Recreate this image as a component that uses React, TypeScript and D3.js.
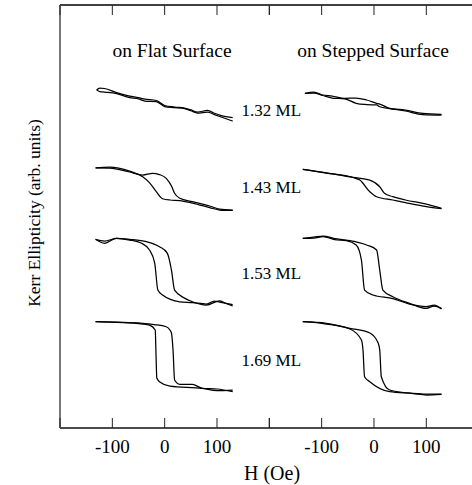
import React from "react";
import * as d3 from "d3";

// H (Oe) ticks and labels
const tickValues = [-200, -100, 0, 100, 200];
const tickLabels = ["-100", "0", "100"];
const labeledTicks = [-100, 0, 100];
const thicknesses = ["1.32 ML", "1.43 ML", "1.53 ML", "1.69 ML"];
const rowOffsets = [384, 284, 184, 84];
const labelLevels = [376, 285, 183, 80];
const panelTitles = ["on Flat Surface", "on Stepped Surface"];

// Flat surface loops: [H (Oe), Kerr ellipticity (arb.)]
const flat132Up: [number, number][] = [[-130, 15.5], [-124, 17.8], [-115, 17.3], [-92, 12.5], [-67, 8.4], [-50, 6.5], [-38, 4.8], [-16, 3.1], [0, -2.8], [19, -4.6], [38, -5.8], [50, -8], [63, -10.5], [82, -8.7], [95, -12], [108, -14.7], [130, -17.0]];
const flat132Down: [number, number][] = [[-130, 15.5], [-124, 13.7], [-115, 13.1], [-92, 11.3], [-67, 6.6], [-50, 5], [-38, 2.5], [-16, 1.9], [0, -4.0], [19, -5.2], [38, -6.4], [50, -9], [63, -11.7], [82, -10.5], [95, -13.5], [108, -16.4], [130, -21.2]];
const flat143Up: [number, number][] = [[-132, 23.6], [-105, 23.3], [-67, 18.6], [-42, 15.0], [-23, 17.0], [-10, 15.6], [3, 11.1], [13, 2.0], [19, -6.6], [29, -12.5], [53, -16.5], [86, -21.6], [105, -25.2], [130, -26.4]];
const flat143Down: [number, number][] = [[-132, 23.6], [-105, 24.5], [-67, 19.7], [-42, 13.0], [-30, 6.7], [-16, -4.7], [-4, -13.0], [10, -14.5], [29, -15.1], [53, -18.1], [86, -23.4], [105, -26.4], [130, -26.9]];
const flat153Up: [number, number][] = [[-132, 39.0], [-115, 34.3], [-92, 40.2], [-67, 39.0], [-35, 36.2], [-10, 30.3], [5, 22.8], [13, 2.7], [19, -21.0], [38, -30.5], [53, -34.8], [80, -38.7], [105, -33.6], [115, -36.3], [130, -39.8]];
const flat153Down: [number, number][] = [[-132, 39.0], [-115, 37.0], [-92, 40.0], [-67, 38.2], [-45, 34.6], [-29, 26.4], [-19, 11.0], [-13, -21.0], [-4, -26.8], [29, -34.8], [53, -35.7], [80, -37.5], [95, -33.9], [105, -35.1], [130, -38.1]];
const flat169Up: [number, number][] = [[-132, 41.6], [-42, 39.7], [-20, 38.3], [3, 35.7], [10, 31.8], [13, 28.3], [16, 8.2], [19, -27.3], [29, -32.4], [53, -32.4], [72, -37.1], [100, -37.9], [130, -41.1]];
const flat169Down: [number, number][] = [[-132, 41.6], [-42, 38.9], [-29, 37.7], [-18, 31.8], [-16.5, 2.2], [-15, -24.9], [-10, -29.3], [10, -34.4], [72, -37.1], [100, -39.7], [130, -39.1]];

// Stepped surface loops
const step132Up: [number, number][] = [[-132, 11.6], [-115, 13.1], [-98, 9.6], [-80, 8.4], [-56, 5.7], [-34, 6.0], [-14, 3.7], [5, -0.2], [11, -1.1], [30, -6.1], [60, -8.2], [93, -12.1], [129, -13.2]];
const step132Down: [number, number][] = [[-132, 11.6], [-115, 11.9], [-98, 9.0], [-80, 6.0], [-56, 5.1], [-34, -0.2], [-14, -1.7], [5, -2.2], [11, -4.3], [30, -6.4], [60, -9.3], [93, -13.5], [129, -14.1]];
const step143Up: [number, number][] = [[-136, 21.7], [-91, 17.7], [-40, 12.3], [-8, 9.1], [11, 1.2], [20, -6.6], [36, -10.6], [60, -14.5], [100, -19.3], [129, -24.3]];
const step143Down: [number, number][] = [[-136, 21.7], [-91, 17.4], [-40, 12.1], [-27, 9.1], [-8, -4.7], [5, -10.6], [36, -14.5], [60, -17.5], [100, -22.2], [129, -24.6]];
const step153Up: [number, number][] = [[-136, 40.2], [-115, 41.7], [-97, 42.9], [-75, 40.0], [-53, 38.2], [-14, 32.3], [5, 26.4], [11, 2.7], [17, -21.0], [36, -28.8], [68, -36.6], [100, -42.6], [115, -39.8], [129, -42.6]];
const step153Down: [number, number][] = [[-136, 40.2], [-115, 40.5], [-97, 42.3], [-75, 38.8], [-53, 37.6], [-34, 32.3], [-24, 14.5], [-18, -21.0], [-2, -26.8], [36, -31.0], [68, -37.5], [100, -40.4], [115, -38.7], [129, -43.4]];
const step169Up: [number, number][] = [[-136, 41.6], [-91, 39.7], [-46, 33.8], [-8, 28.3], [8, 16.4], [11, 8.2], [14, -23.4], [30, -39.1], [75, -43.0], [100, -43.9], [129, -43.9]];
const step169Down: [number, number][] = [[-136, 41.6], [-91, 38.9], [-46, 33.0], [-24, 20.0], [-21, 8.2], [-18, -23.4], [-8, -29.3], [30, -41.1], [75, -43.3], [100, -45.0], [129, -44.4]];

const flatLoops = [[flat132Up, flat132Down], [flat143Up, flat143Down], [flat153Up, flat153Down], [flat169Up, flat169Down]];
const stepLoops = [[step132Up, step132Down], [step143Up, step143Down], [step153Up, step153Down], [step169Up, step169Down]];

const W = 472, H = 485;
const left = 60, top = 5, bottom = 428;
const font = "'Liberation Serif', 'Times New Roman', serif";

export default function App() {
  const pxPer100 = 52.33;
  const xLeft = d3.scaleLinear().domain([-200, 200]).range([left, left + 4 * pxPer100]);
  const xRight = d3.scaleLinear().domain([-200, 200]).range([left + 4 * pxPer100, left + 8 * pxPer100]);
  const y = d3.scaleLinear().domain([0, 500]).range([bottom, top]);

  const makeLine = (xs: d3.ScaleLinear<number, number>, off: number) =>
    d3.line<[number, number]>().x(d => xs(d[0])).y(d => y(off + d[1])).curve(d3.curveMonotoneX);

  const panels = [
    { xs: xLeft, loops: flatLoops },
    { xs: xRight, loops: stepLoops },
  ];

  return (
    <svg width={W} height={H} style={{ position: "absolute", left: 0, top: 0, background: "#fff" }}>
      {/* frame */}
      <line x1={left} x2={W} y1={top} y2={top} stroke="#000" strokeWidth={1.4} />
      <line x1={left} x2={W} y1={bottom} y2={bottom} stroke="#111" strokeWidth={1.4} />
      <line x1={left} x2={left} y1={top} y2={bottom} stroke="#555" strokeWidth={1.6} />
      {panels.map((p, pi) => (
        <g key={pi}>
          {tickValues.map(t => (
            <g key={t}>
              <line x1={p.xs(t)} x2={p.xs(t)} y1={top} y2={top + 10} stroke="#222" strokeWidth={1} />
              <line x1={p.xs(t)} x2={p.xs(t)} y1={bottom} y2={bottom - 10} stroke="#222" strokeWidth={1} />
            </g>
          ))}
          {labeledTicks.map((t, i) => (
            <text key={t} x={p.xs(t)} y={453} textAnchor="middle" fontFamily={font} fontSize={19} fill="#000">
              {tickLabels[i]}
            </text>
          ))}
          {p.loops.map((loop, ri) => (
            <g key={ri}>
              {loop.map((branch, bi) => (
                <path key={bi} d={makeLine(p.xs, rowOffsets[ri])(branch) || ""} fill="none" stroke="#000" strokeWidth={1.25} />
              ))}
            </g>
          ))}
        </g>
      ))}
      <text x={172} y={57} textAnchor="middle" fontFamily={font} fontSize={19.5} fill="#000">{panelTitles[0]}</text>
      <text x={373} y={57} textAnchor="middle" fontFamily={font} fontSize={19.5} fill="#000">{panelTitles[1]}</text>
      {thicknesses.map((t, i) => (
        <text key={t} x={xLeft(200) + 2} y={y(labelLevels[i]) + 6} textAnchor="middle" fontFamily={font} fontSize={17} fill="#000">{t}</text>
      ))}
      <text x={272} y={480} textAnchor="middle" fontFamily={font} fontSize={20} fill="#000">H (Oe)</text>
      <text transform={`translate(40, 213) rotate(-90)`} textAnchor="middle" fontFamily={font} fontSize={17.5} fill="#000">Kerr Ellipticity (arb. units)</text>
    </svg>
  );
}
